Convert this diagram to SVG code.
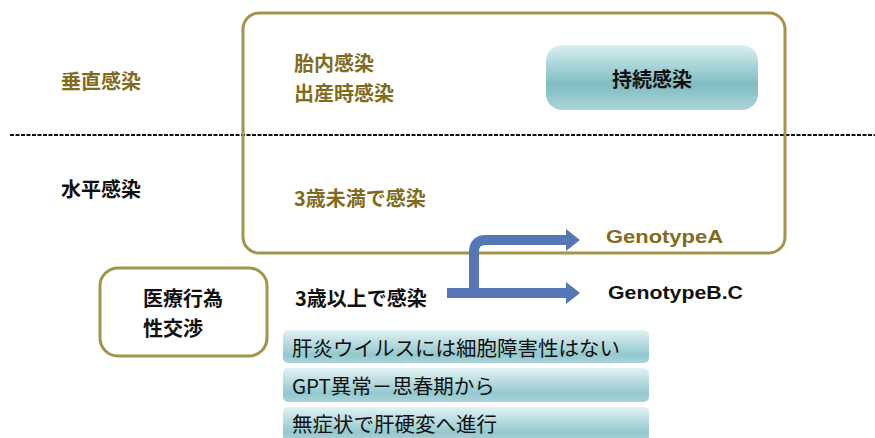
<svg xmlns="http://www.w3.org/2000/svg" width="875" height="438" viewBox="0 0 875 438">
<defs>
<linearGradient id="gPersist" x1="0" y1="0" x2="0" y2="1">
<stop offset="0" stop-color="#d9eff1"/>
<stop offset="0.6" stop-color="#7fbcc2"/>
<stop offset="1" stop-color="#acd5d8"/>
</linearGradient>
<linearGradient id="gBar" x1="0" y1="0" x2="0" y2="1">
<stop offset="0" stop-color="#e2f2f4"/>
<stop offset="0.75" stop-color="#93c8ce"/>
<stop offset="1" stop-color="#aad4d8"/>
</linearGradient>
<marker id="head" viewBox="0 0 14 22" refX="0" refY="11" markerWidth="14" markerHeight="22" markerUnits="userSpaceOnUse" orient="auto">
<path d="M0,0 L14,11 L0,22 Z" fill="#5677b5"/>
</marker>
</defs>
<style>
.frame{fill:none;stroke:#a3934b;stroke-width:3}
.jp{font-family:"Noto Sans CJK JP","Noto Sans",sans-serif;font-size:20px;dominant-baseline:central}
.b{font-weight:bold}
.ol{fill:#806b1e}
.bk{fill:#111}
.bar{fill:url(#gBar)}
.bt{font-family:"Noto Sans CJK JP","Noto Sans",sans-serif;font-size:20.5px;fill:#111;dominant-baseline:central}
.lat{font-family:"Liberation Sans",Arial,sans-serif;font-size:18px;font-weight:bold;dominant-baseline:central}
.conn{fill:none;stroke:#5677b5;stroke-width:10}
</style>
<rect width="875" height="438" fill="#fff"/>
<line x1="10" y1="135" x2="875" y2="135" stroke="#111" stroke-width="2" stroke-dasharray="4 1.5"/>
<g id="main-box">
<rect class="frame" x="243" y="13" width="542" height="240" rx="16"/>
</g>
<g id="label-vertical"><text class="jp b ol" x="61" y="80">垂直感染</text></g>
<g id="label-horizontal"><text class="jp b bk" x="61" y="188">水平感染</text></g>
<g id="text-perinatal">
<text class="jp b ol" x="294" y="62">胎内感染</text>
<text class="jp b ol" x="294" y="92">出産時感染</text>
</g>
<g id="text-under3"><text class="jp b ol" x="294" y="197">3歳未満で感染</text></g>
<g id="persistent">
<rect x="546" y="45" width="212" height="65" rx="16" fill="url(#gPersist)"/>
<text class="jp b bk" x="652" y="78" text-anchor="middle">持続感染</text>
</g>
<g id="medical">
<rect class="frame" x="100" y="268" width="167" height="88" rx="18"/>
<text class="jp b bk" x="143" y="297">医療行為</text>
<text class="jp b bk" x="143" y="327">性交渉</text>
</g>
<g id="text-over3"><text class="jp b bk" x="295" y="297">3歳以上で感染</text></g>
<g id="genoA"><text class="lat ol" x="606" y="237" textLength="117" lengthAdjust="spacingAndGlyphs">GenotypeA</text></g>
<g id="genoBC"><text class="lat bk" x="608" y="293" textLength="135" lengthAdjust="spacingAndGlyphs">GenotypeB.C</text></g>
<g id="connectors">
<path class="conn" d="M447,293 H566" marker-end="url(#head)"/>
<path class="conn" d="M474,293 V252 Q474,240 486,240 H566" marker-end="url(#head)"/>
</g>
<g id="bar1">
<rect class="bar" x="283" y="330" width="366" height="33" rx="5"/>
<text class="bt" x="292" y="347">肝炎ウイルスには細胞障害性はない</text>
</g>
<g id="bar2">
<rect class="bar" x="283" y="368" width="366" height="34" rx="5"/>
<text class="bt" x="292" y="385">GPT異常－思春期から</text>
</g>
<g id="bar3">
<rect class="bar" x="283" y="407" width="366" height="34" rx="5"/>
<text class="bt" x="292" y="423">無症状で肝硬変へ進行</text>
</g>
</svg>
